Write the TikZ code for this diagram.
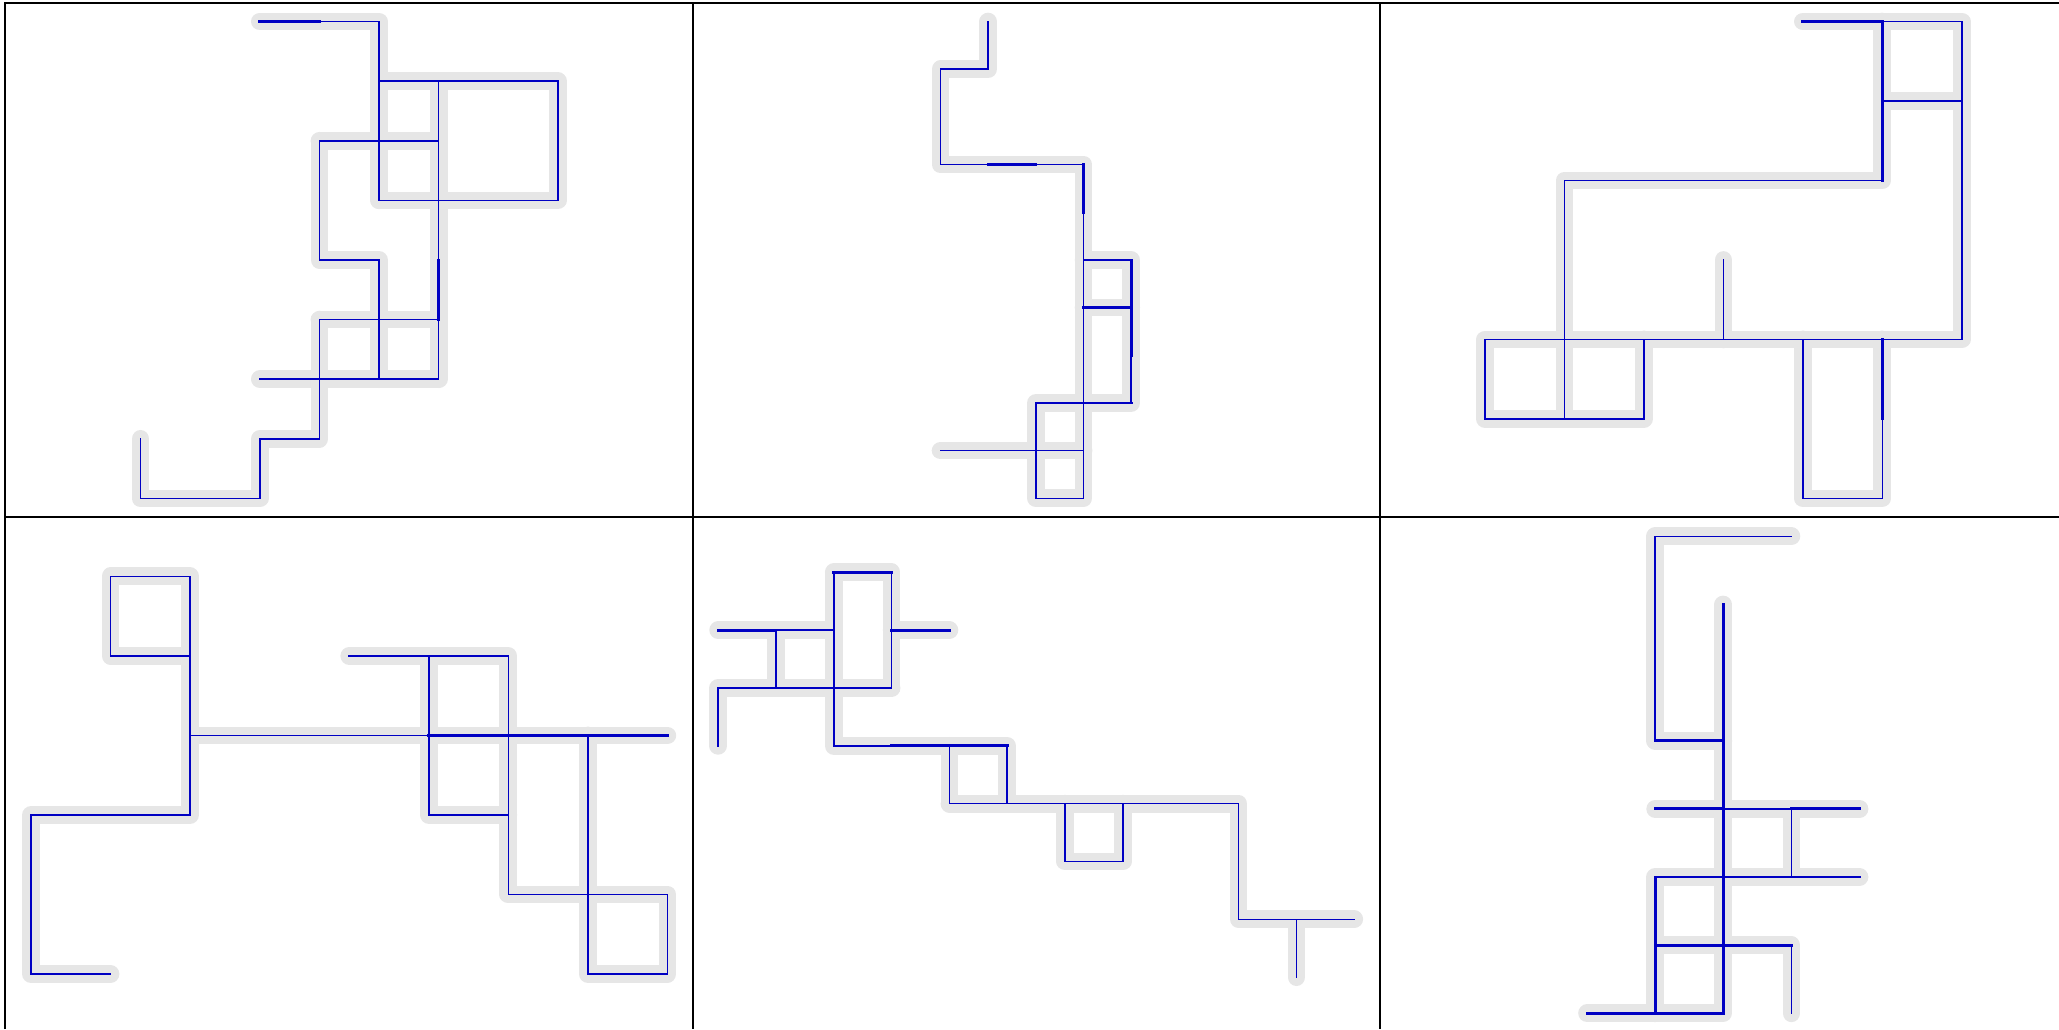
\documentclass[tikz,border=0pt]{standalone}
\definecolor{wireblue}{RGB}{0,0,195}
\definecolor{halogray}{RGB}{230,230,230}
\newcommand{\PanA}{(2,0)--(4,0)--(4,3) (4,1)--(7,1)--(7,3)--(4,3) (5,1)--(5,6) (3,2)--(5,2) (3,2)--(3,4)--(4,4)--(4,6) (3,5)--(5,5) (3,5)--(3,7)--(2,7)--(2,8)--(0,8)--(0,7) (2,6)--(5,6)}
\newcommand{\PanB}{(1,0)--(1,1)--(0,1)--(0,3)--(3,3)--(3,10)--(2,10)--(2,8)--(3,8) (3,5)--(4,5)--(4,8)--(3,8) (3,6)--(4,6) (0,9)--(3,9)}
\newcommand{\PanC}{(4,0)--(6,0)--(6,4)--(0,4)--(0,5)--(2,5)--(2,4) (5,0)--(5,2)--(1,2)--(1,5) (5,1)--(6,1) (3,3)--(3,4) (4,4)--(4,6)--(5,6)--(5,4)}
\newcommand{\PanD}{(2,1)--(1,1)--(1,0)--(2,0)--(2,3)--(0,3)--(0,5)--(1,5) (2,2)--(8,2) (4,1)--(6,1)--(6,4)--(8,4)--(8,5)--(7,5)--(7,2) (5,1)--(5,3)--(6,3)}
\newcommand{\PanE}{(0,1)--(2,1) (3,1)--(4,1) (2,0)--(3,0)--(3,2) (0,3)--(0,2)--(3,2) (1,1)--(1,2) (2,0)--(2,3)--(5,3)--(5,4)--(4,4)--(4,3) (4,4)--(9,4)--(9,6)--(11,6) (6,4)--(6,5)--(7,5)--(7,4) (10,6)--(10,7)}
\newcommand{\PanF}{(3,0)--(1,0)--(1,3)--(2,3) (2,1)--(2,7)--(0,7) (1,4)--(4,4) (3,4)--(3,5) (4,5)--(1,5)--(1,7) (1,6)--(3,6)--(3,7)}
\begin{document}
\begin{tikzpicture}[x=0.01cm,y=-0.01cm,
  halo/.style={line width=0.177cm, draw=halogray, line cap=round, line join=round},
  wire/.style={line width=0.45pt, draw=wireblue, line cap=rect, line join=miter},
  wirethick/.style={line width=0.8pt, draw=wireblue, line cap=rect},
  frame/.style={line width=0.58pt, draw=black}]
\useasboundingbox (0,0) rectangle (2059,1029);
\clip (0,0) rectangle (2059,1029);
% panel frames
\draw[frame] (5.3,1029) -- (5.3,3) -- (2059,3);
\draw[frame] (5.3,517) -- (2059,517);
\draw[frame] (692.7,3) -- (692.7,1029);
\draw[frame] (1379.7,3) -- (1379.7,1029);
% panel 1
\begin{scope}[shift={(1.405cm,-0.215cm)}, x=0.5958cm, y=-0.5958cm]
  \draw[halo] \PanA;
  \draw[wire] \PanA;
  \draw[wirethick] (2,0)--(3,0) (5,4)--(5,5);
\end{scope}
% panel 2
\begin{scope}[shift={(9.400cm,-0.215cm)}, x=0.4765cm, y=-0.4765cm]
  \draw[halo] \PanB;
  \draw[wire] \PanB;
  \draw[wirethick] (1,3)--(2,3) (3,3)--(3,4) (3,6)--(4,6) (4,5)--(4,7) (3,8)--(4,8);
\end{scope}
% panel 3
\begin{scope}[shift={(14.841cm,-0.215cm)}, x=0.7943cm, y=-0.7943cm]
  \draw[halo] \PanC;
  \draw[wire] \PanC;
  \draw[wirethick] (4,0)--(5,0) (5,0)--(5,2) (5,1)--(6,1) (5,4)--(5,5);
\end{scope}
% panel 4
\begin{scope}[shift={(0.310cm,-5.760cm)}, x=0.795cm, y=-0.795cm]
  \draw[halo] \PanD;
  \draw[wire] \PanD;
  \draw[wirethick] (5,2)--(8,2);
\end{scope}
% panel 5
\begin{scope}[shift={(7.177cm,-5.720cm)}, x=0.578cm, y=-0.578cm]
  \draw[halo] \PanE;
  \draw[wire] \PanE;
  \draw[wirethick] (3,3)--(5,3) (0,1)--(1,1) (3,1)--(4,1) (2,0)--(3,0);
\end{scope}
% panel 6
\begin{scope}[shift={(15.861cm,-5.360cm)}, x=0.681cm, y=-0.681cm]
  \draw[halo] \PanF;
  \draw[wire] \PanF;
  \draw[wirethick] (2,1)--(2,7) (1,3)--(2,3) (1,4)--(2,4) (3,4)--(4,4) (1,5)--(2,5) (3,5)--(4,5) (1,6)--(3,6) (1,5)--(1,7) (0,7)--(2,7);
\end{scope}
\end{tikzpicture}
\end{document}
